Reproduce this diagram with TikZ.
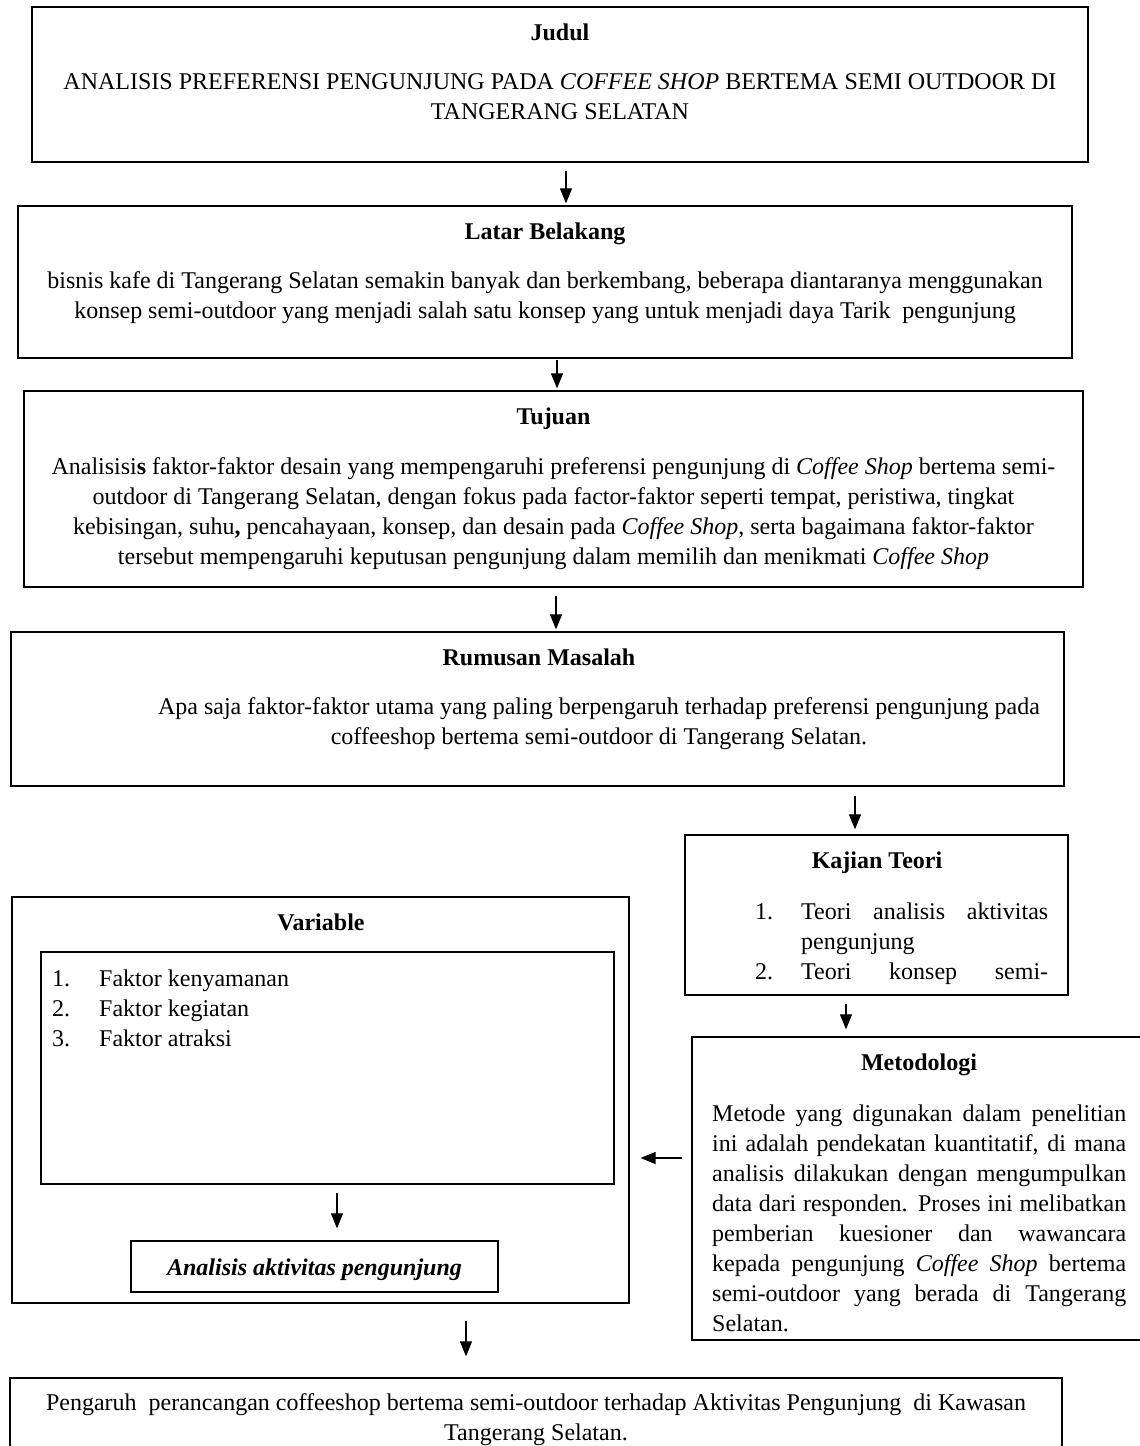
\documentclass[tikz,border=0pt]{standalone}
\usepackage{fontspec}
\setmainfont{Liberation Serif}
\usepackage{tikz}
\usetikzlibrary{arrows.meta}
\newcommand{\isifont}{\fontsize{24}{30}\selectfont}

\begin{document}
\begin{tikzpicture}[x=1pt,y=-1pt,
  kotak/.style={draw,line width=1.3pt,inner sep=0pt},
  judul/.style={font=\isifont\bfseries,inner sep=0pt,anchor=base},
  isi/.style={font=\isifont,inner sep=0pt,anchor=north,align=center},
  panah/.style={-{Triangle[length=15pt,width=12pt]},line width=1.1pt}]
\useasboundingbox (0,0) rectangle (1140,1446);

\node[kotak,minimum width=1056,minimum height=155] (jdl) at (560,84.5) {};
\node[kotak,minimum width=1054,minimum height=152] (ltr) at (545,282) {};
\node[kotak,minimum width=1059,minimum height=196] (tjn) at (553.5,489) {};
\node[kotak,minimum width=1053,minimum height=154] (rms) at (537.5,709) {};
\node[kotak,minimum width=383,minimum height=160] (kjn) at (876.5,915) {};
\node[kotak,minimum width=450,minimum height=303] (mtd) at (917,1188.5) {};
\node[kotak,minimum width=617,minimum height=406] (vrb) at (320.5,1100) {};
\node[kotak,minimum width=573,minimum height=232] (vrbisi) at (327.5,1068) {};
\node[kotak,minimum width=367,minimum height=51] (anl) at (314.5,1266.5) {};
\node[kotak,minimum width=1052,minimum height=70] (hsl) at (536,1413) {};

\node[judul] (jdlT) at (560,40) {Judul};
\node[isi] (jdlI) at (560,68) {\strut ANALISIS PREFERENSI PENGUNJUNG PADA \textit{COFFEE SHOP} BERTEMA SEMI OUTDOOR DI\\TANGERANG SELATAN};

\node[judul] (ltrT) at (545,239) {Latar Belakang};
\node[isi] (ltrI) at (545,267) {\strut bisnis kafe di Tangerang Selatan semakin banyak dan berkembang, beberapa diantaranya menggunakan\\konsep semi-outdoor yang menjadi salah satu konsep yang untuk menjadi daya Tarik\ \ pengunjung};

\node[judul] (tjnT) at (553.5,424) {Tujuan};
\node[isi] (tjnI) at (553.5,453) {\strut Analisisi\textbf{s} faktor-faktor desain yang mempengaruhi preferensi pengunjung di \textit{Coffee Shop} bertema semi-\\outdoor di Tangerang Selatan, dengan fokus pada factor-faktor seperti tempat, peristiwa, tingkat\\kebisingan, suhu\textbf{,} pencahayaan, konsep, dan desain pada \textit{Coffee Shop}, serta bagaimana faktor-faktor\\tersebut mempengaruhi keputusan pengunjung dalam memilih dan menikmati \textit{Coffee Shop}};

\node[judul] (rmsT) at (539,665) {Rumusan Masalah};
\node[isi] (rmsI) at (599,693) {\strut Apa saja faktor-faktor utama yang paling berpengaruh terhadap preferensi pengunjung pada\\coffeeshop bertema semi-outdoor di Tangerang Selatan.};

\node[judul] (kjnT) at (877,868) {Kajian Teori};
\node[isi,anchor=north west,align=left,text width=293] (kjnI) at (755,898) {\strut\makebox[46pt][l]{1.}Teori\hfill analisis\hfill aktivitas\\\hspace*{46pt}pengunjung\\\makebox[46pt][l]{2.}Teori\hfill konsep\hfill semi-};

\node[judul] (mtdT) at (919,1070) {Metodologi};
\node[isi,anchor=north west,align=justify,text width=414] (mtdI) at (712,1100) {\strut Metode yang digunakan dalam penelitian\linebreak ini adalah pendekatan kuantitatif, di mana\linebreak analisis dilakukan dengan mengumpulkan\linebreak data dari responden. Proses ini melibatkan\linebreak pemberian kuesioner dan wawancara\linebreak kepada pengunjung \textit{Coffee Shop} bertema\linebreak semi-outdoor yang berada di Tangerang\linebreak Selatan.};

\node[judul] (vrbT) at (321,930) {Variable};
\node[isi,anchor=north west,align=left] (vrbI) at (52,965) {\strut\makebox[47pt][l]{1.}Faktor kenyamanan\\\makebox[47pt][l]{2.}Faktor kegiatan\\\makebox[47pt][l]{3.}Faktor atraksi};

\node[judul,font=\isifont\bfseries\itshape] (anlT) at (314.5,1275) {Analisis aktivitas pengunjung};

\node[isi] (hslI) at (536,1389) {\strut Pengaruh\ \ perancangan coffeeshop bertema semi-outdoor terhadap Aktivitas Pengunjung\ \ di Kawasan\\Tangerang Selatan.};

\draw[panah] ([xshift=6,yshift=-8]jdl.south) -- ([xshift=21,yshift=2]ltr.north);
\draw[panah] ([xshift=12,yshift=-1]ltr.south) -- ([xshift=3.5,yshift=2]tjn.north);
\draw[panah] ([xshift=2.5,yshift=-8]tjn.south) -- ([xshift=18.5,yshift=2]rms.north);
\draw[panah] ([xshift=317.5,yshift=-9]rms.south) -- ([xshift=-21.5,yshift=5]kjn.north);
\draw[panah] ([xshift=-30.5,yshift=-8]kjn.south) -- ([xshift=-71,yshift=7]mtd.north);
\draw[panah] ([xshift=-9,yshift=30.5]mtd.west) -- ([xshift=11,yshift=-58]vrb.east);
\draw[panah] ([xshift=9.5,yshift=-8]vrbisi.south) -- ([xshift=22.5,yshift=12]anl.north);
\draw[panah] ([xshift=145.5,yshift=-17]vrb.south) -- ([xshift=-70,yshift=21]hsl.north);
\end{tikzpicture}
\end{document}
